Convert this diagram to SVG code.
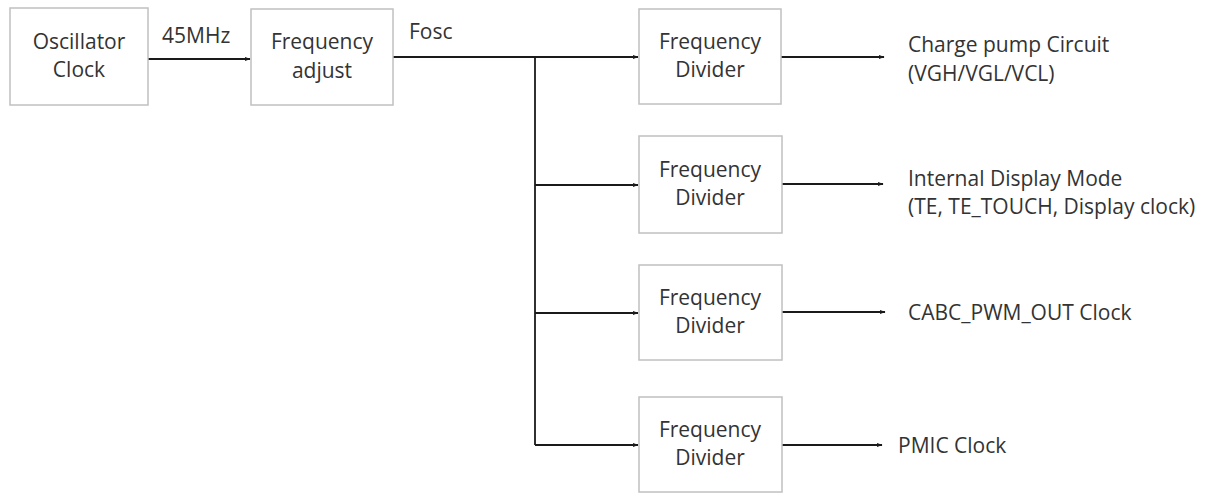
<svg xmlns="http://www.w3.org/2000/svg" width="1216" height="494" viewBox="0 0 1216 494">
<style>
.box{fill:#fff;stroke:#c0c0c0;stroke-width:1.5}
.t{font-family:"Open Sans","Liberation Sans",sans-serif;font-size:21px;fill:#333}
.c{text-anchor:middle}
.ln{fill:none;stroke:#1a1a1a;stroke-width:1.8}
</style>
<defs>
<marker id="ah" viewBox="0 0 10 10" refX="9" refY="5" markerWidth="6" markerHeight="6" orient="auto" markerUnits="userSpaceOnUse">
<path d="M0,1.5 L10,5 L0,8.5 z" fill="#1a1a1a"/>
</marker>
</defs>
<rect width="1216" height="494" fill="#fff"/>
<g id="connectors">
<path class="ln" d="M148,59 H250" marker-end="url(#ah)"/>
<path class="ln" d="M393,57 H638" marker-end="url(#ah)"/>
<path class="ln" d="M535,57 V445"/>
<path class="ln" d="M535,185 H638" marker-end="url(#ah)"/>
<path class="ln" d="M535,313 H638" marker-end="url(#ah)"/>
<path class="ln" d="M535,445 H638" marker-end="url(#ah)"/>
<path class="ln" d="M781,57 H884" marker-end="url(#ah)"/>
<path class="ln" d="M782,184 H883" marker-end="url(#ah)"/>
<path class="ln" d="M782,312 H885" marker-end="url(#ah)"/>
<path class="ln" d="M782,445 H882" marker-end="url(#ah)"/>
<text class="t" x="162" y="43">45MHz</text>
<text class="t" x="409" y="39">Fosc</text>
</g>
<g id="osc">
<rect class="box" x="10" y="8" width="138" height="97"/>
<text class="t c" x="79" y="49">Oscillator</text>
<text class="t c" x="79" y="77">Clock</text>
</g>
<g id="adjust">
<rect class="box" x="251" y="9" width="142" height="96"/>
<text class="t c" x="322" y="49">Frequency</text>
<text class="t c" x="322" y="78">adjust</text>
</g>
<g id="div1">
<rect class="box" x="639" y="9" width="142" height="95"/>
<text class="t c" x="710" y="49">Frequency</text>
<text class="t c" x="710" y="77">Divider</text>
</g>
<g id="div2">
<rect class="box" x="639" y="136" width="143" height="97"/>
<text class="t c" x="710" y="177">Frequency</text>
<text class="t c" x="710" y="205">Divider</text>
</g>
<g id="div3">
<rect class="box" x="639" y="265" width="143" height="95"/>
<text class="t c" x="710" y="305">Frequency</text>
<text class="t c" x="710" y="333">Divider</text>
</g>
<g id="div4">
<rect class="box" x="639" y="397" width="143" height="95"/>
<text class="t c" x="710" y="437">Frequency</text>
<text class="t c" x="710" y="465">Divider</text>
</g>
<g id="out1">
<text class="t" x="908" y="52">Charge pump Circuit</text>
<text class="t" x="908" y="81">(VGH/VGL/VCL)</text>
</g>
<g id="out2">
<text class="t" x="908" y="186">Internal Display Mode</text>
<text class="t" x="908" y="214">(TE, TE_TOUCH, Display clock)</text>
</g>
<g id="out3">
<text class="t" x="908" y="320">CABC_PWM_OUT Clock</text>
</g>
<g id="out4">
<text class="t" x="898" y="453">PMIC Clock</text>
</g>
</svg>
